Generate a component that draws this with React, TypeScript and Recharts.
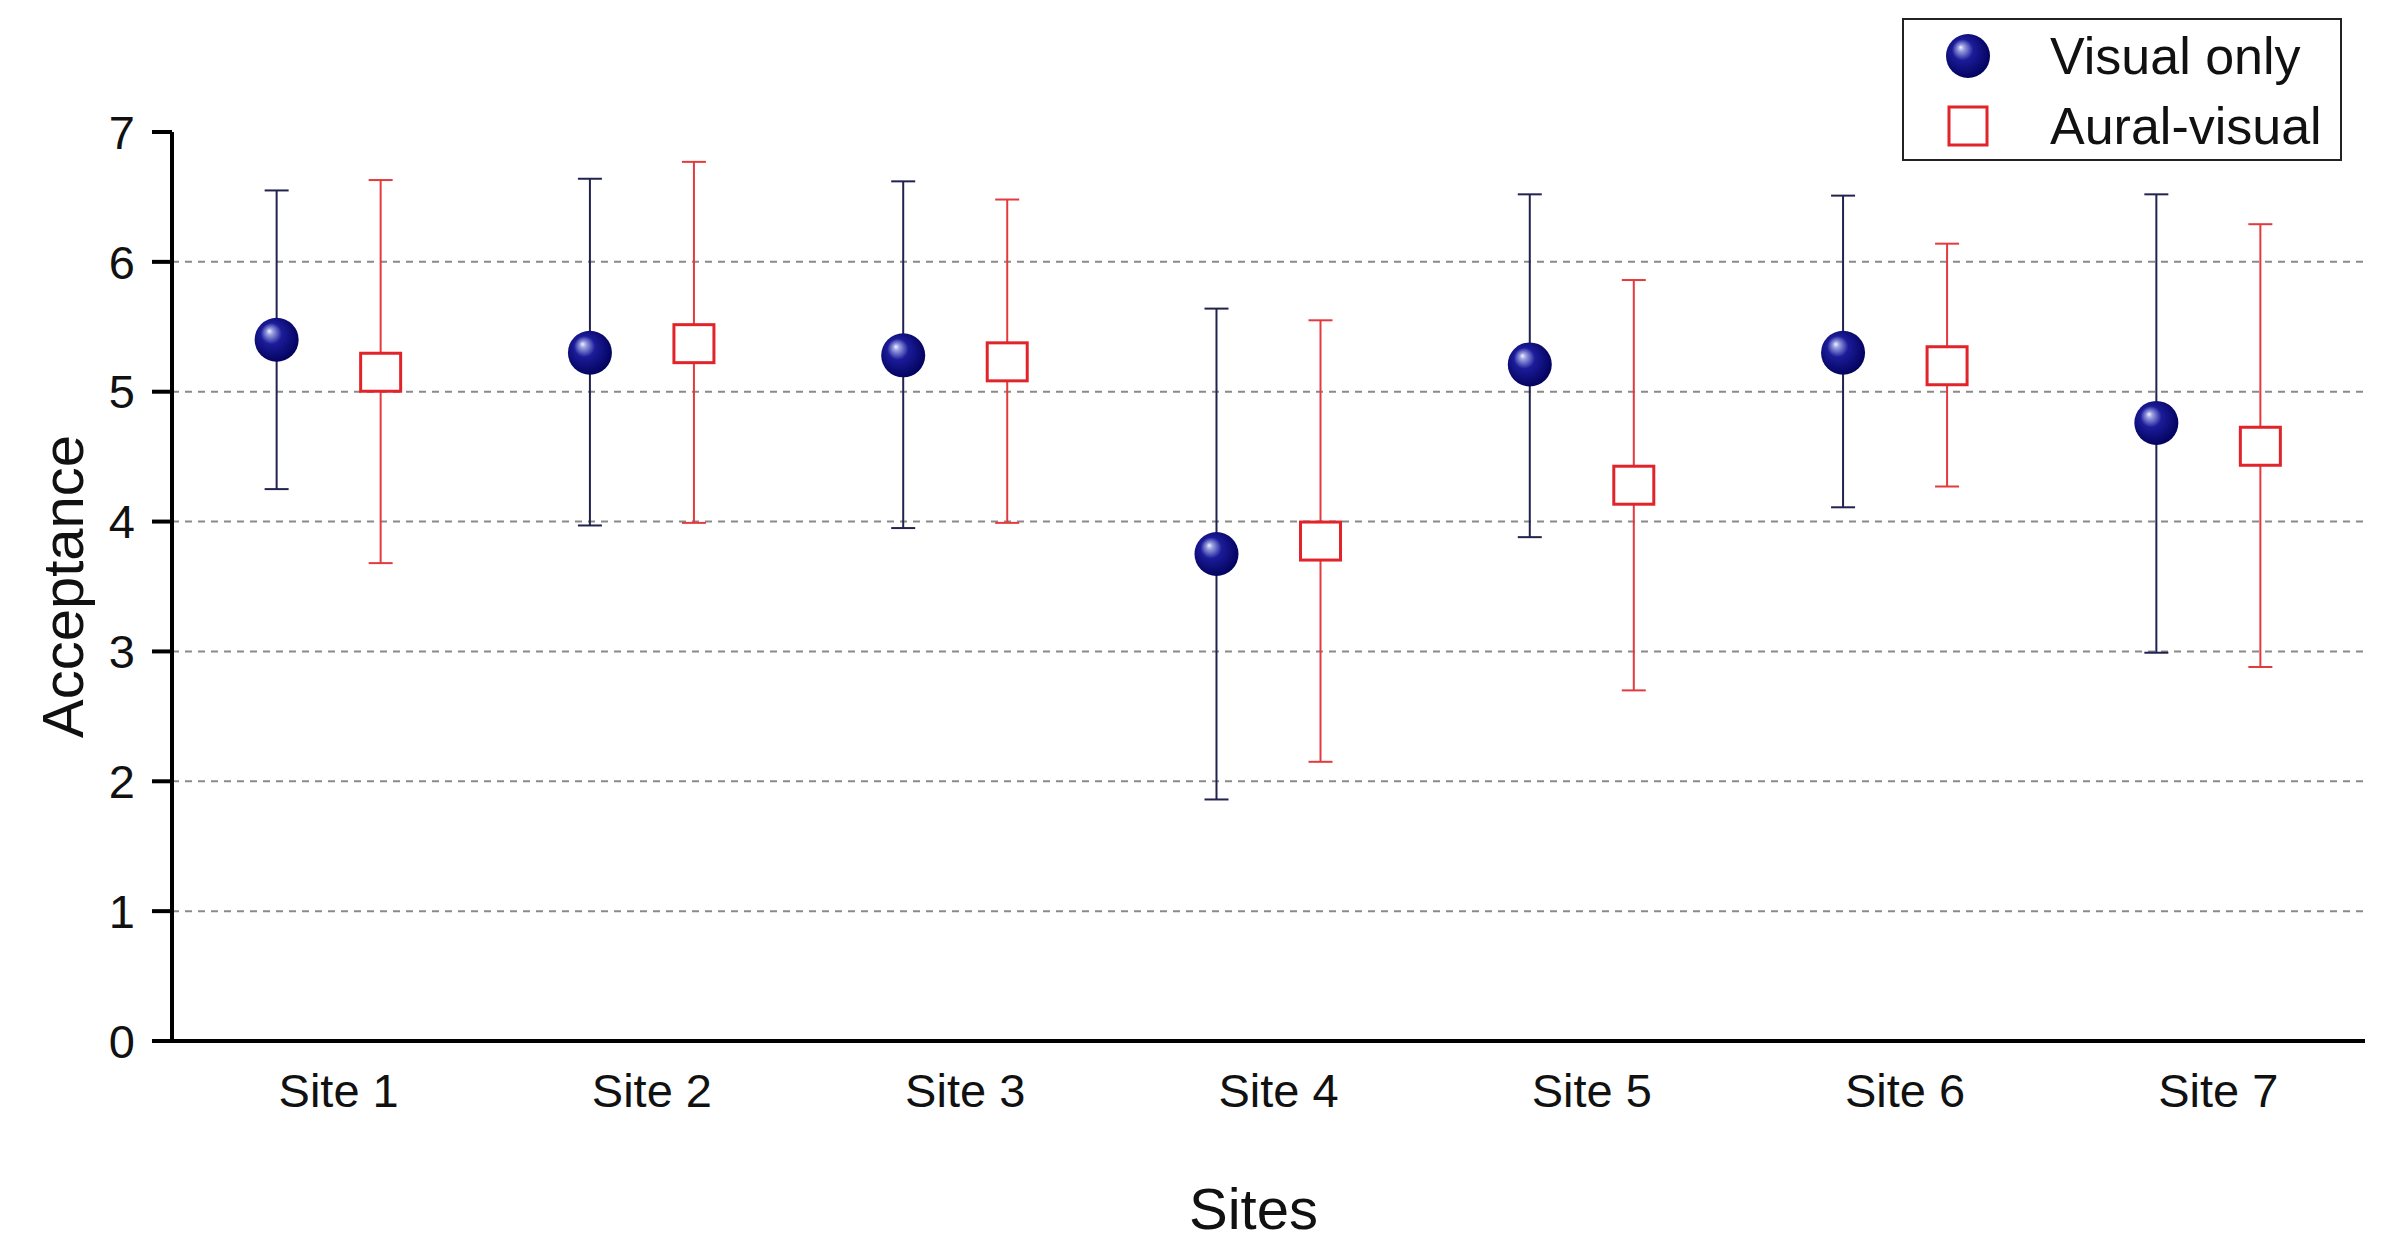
import React from "react";
import {
  ScatterChart,
  Scatter,
  XAxis,
  YAxis,
  ErrorBar,
  ReferenceLine,
  Legend,
} from "recharts";

const sites = ["Site 1", "Site 2", "Site 3", "Site 4", "Site 5", "Site 6", "Site 7"];

const visualMean = [5.4, 5.3, 5.28, 3.75, 5.21, 5.3, 4.76];
const visualHigh = [6.55, 6.64, 6.62, 5.64, 6.52, 6.51, 6.52];
const visualLow = [4.25, 3.97, 3.95, 1.86, 3.88, 4.11, 2.99];

const auralMean = [5.15, 5.37, 5.23, 3.85, 4.28, 5.2, 4.58];
const auralHigh = [6.63, 6.77, 6.48, 5.55, 5.86, 6.14, 6.29];
const auralLow = [3.68, 3.99, 3.99, 2.15, 2.7, 4.27, 2.88];

const yTicks = [0, 1, 2, 3, 4, 5, 6, 7];
const gridValues = [1, 2, 3, 4, 5, 6];

const FONT = '"Liberation Sans", Arial, sans-serif';
const PAIR_OFFSET = 0.166;

const build = (mean: number[], high: number[], low: number[], shift: number) =>
  mean.map((m, i) => ({
    x: i + 0.5 + shift,
    y: m,
    err: [m - low[i], high[i] - m],
  }));

const visualData = build(visualMean, visualHigh, visualLow, -PAIR_OFFSET);
const auralData = build(auralMean, auralHigh, auralLow, PAIR_OFFSET);

const Sphere = ({ cx, cy, r = 22, id }: any) => (
  <g>
    <defs>
      <radialGradient id={id} cx="0.45" cy="0.45" r="0.6" fx="0.33" fy="0.3">
        <stop offset="0" stopColor="#f2f4ff" />
        <stop offset="0.12" stopColor="#9aa0e0" />
        <stop offset="0.4" stopColor="#1c1c9a" />
        <stop offset="1" stopColor="#000058" />
      </radialGradient>
    </defs>
    <circle cx={cx} cy={cy} r={r} fill={`url(#${id})`} />
  </g>
);

const renderSphere = (props: any) => (
  <Sphere cx={props.cx} cy={props.cy} id={`sph-${props.index}`} />
);

const renderSquare = (props: any) => (
  <rect
    x={props.cx - 20}
    y={props.cy - 19}
    width={40}
    height={38}
    fill="#ffffff"
    stroke="#e0242a"
    strokeWidth={3}
  />
);

const renderLegend = () => (
  <div
    style={{
      position: "relative",
      width: 440,
      height: 143,
      border: "2px solid #222",
      boxSizing: "border-box",
      background: "#fff",
      fontFamily: FONT,
      fontSize: 52,
      color: "#111",
    }}
  >
    <svg
      width={60}
      height={60}
      style={{ position: "absolute", left: 34, top: 6 }}
    >
      <Sphere cx={30} cy={30} r={22} id="sph-legend" />
    </svg>
    <svg
      width={60}
      height={60}
      style={{ position: "absolute", left: 34, top: 76 }}
    >
      <rect x={11} y={11} width={38} height={38} fill="#fff" stroke="#e0242a" strokeWidth={3} />
    </svg>
    <div style={{ position: "absolute", left: 146, top: 4, lineHeight: "64px" }}>
      Visual only
    </div>
    <div style={{ position: "absolute", left: 146, top: 74, lineHeight: "64px" }}>
      Aural-visual
    </div>
  </div>
);

export default function App() {
  return (
    <div style={{ position: "absolute", left: 0, top: 0, width: 2400, height: 1258, background: "#fff" }}>
      <ScatterChart
        width={2400}
        height={1258}
        margin={{ top: 132, right: 35, left: 0, bottom: 0 }}
      >
        {gridValues.map((v) => (
          <ReferenceLine
            key={v}
            y={v}
            stroke="#8a8a8a"
            strokeWidth={2}
            strokeDasharray="7 6"
          />
        ))}
        <XAxis
          type="number"
          dataKey="x"
          domain={[0, 7]}
          ticks={[0.5, 1.5, 2.5, 3.5, 4.5, 5.5, 6.5]}
          tickFormatter={(v: number) => sites[Math.round(v - 0.5)]}
          interval={0}
          height={217}
          axisLine={{ stroke: "#000", strokeWidth: 4 }}
          tickLine={false}
          tickSize={0}
          tickMargin={33}
          tick={{ fill: "#111", fontSize: 47, fontFamily: FONT, dx: 10 }}
          label={{
            value: "Sites",
            position: "insideBottom",
            offset: 29,
            dx: -15,
            fill: "#111",
            fontSize: 58,
            fontFamily: FONT,
          }}
        />
        <YAxis
          type="number"
          dataKey="y"
          domain={[0, 7]}
          ticks={yTicks}
          interval={0}
          width={172}
          axisLine={{ stroke: "#000", strokeWidth: 4 }}
          tickLine={{ stroke: "#000", strokeWidth: 4 }}
          tickSize={20}
          tickMargin={17}
          tick={{ fill: "#111", fontSize: 47, fontFamily: FONT }}
          label={{
            value: "Acceptance",
            angle: -90,
            position: "insideLeft",
            offset: 62,
            fill: "#111",
            fontSize: 58,
            fontFamily: FONT,
            style: { textAnchor: "middle" },
          }}
        />
        <Legend
          layout="vertical"
          align="center"
          verticalAlign="middle"
          width={440}
          height={143}
          wrapperStyle={{ left: 1902, top: 18, width: 440, height: 143 }}
          content={renderLegend}
        />
        <Scatter
          name="Visual only"
          data={visualData}
          shape={renderSphere}
          isAnimationActive={false}
        >
          <ErrorBar
            dataKey="err"
            direction="y"
            width={12}
            stroke="#22224e"
            strokeWidth={2}
          />
        </Scatter>
        <Scatter
          name="Aural-visual"
          data={auralData}
          shape={renderSquare}
          isAnimationActive={false}
        >
          <ErrorBar
            dataKey="err"
            direction="y"
            width={12}
            stroke="#e33a3e"
            strokeWidth={2}
          />
        </Scatter>
      </ScatterChart>
    </div>
  );
}
